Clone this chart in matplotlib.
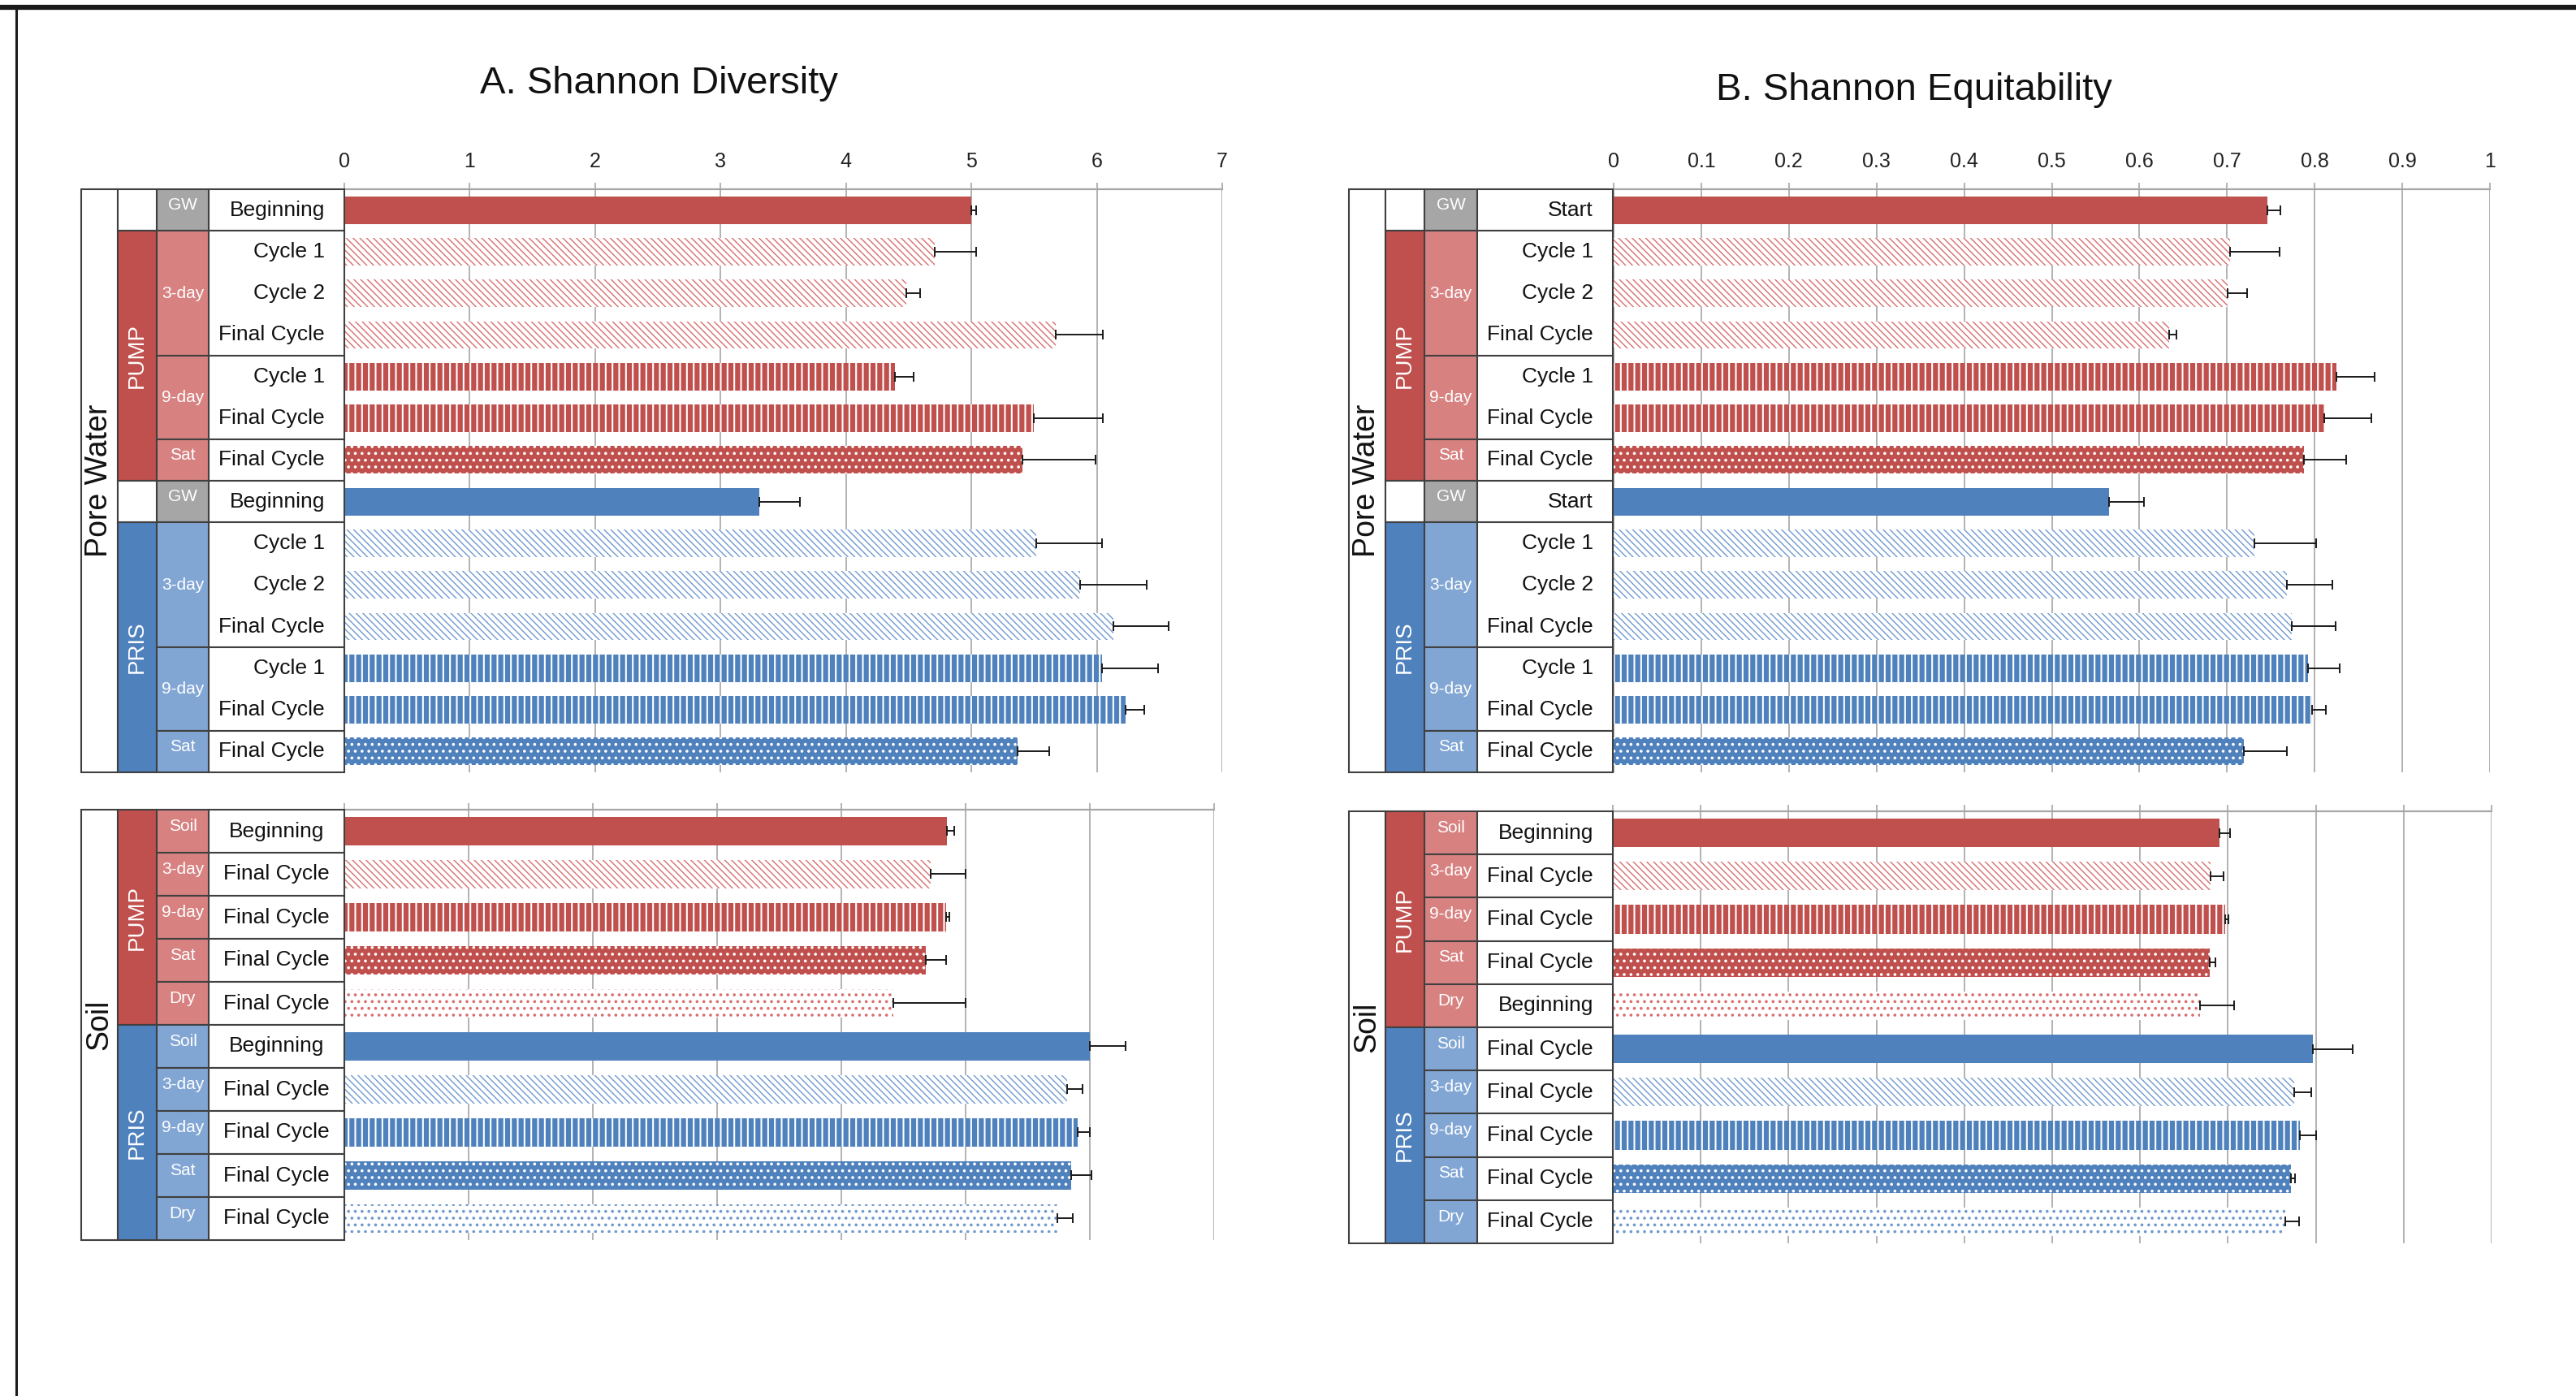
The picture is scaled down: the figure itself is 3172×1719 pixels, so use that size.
import matplotlib.pyplot as plt
import numpy as np
from matplotlib.patches import Rectangle
from matplotlib.lines import Line2D
from matplotlib.transforms import blended_transform_factory

plt.rcParams.update({
    "font.family": ["Liberation Sans", "DejaVu Sans"],
    "hatch.linewidth": 1.5,
})

W, H = 3172, 1719

# ---- row descriptors ----
pw_systems = ["", "PUMP", "PUMP", "PUMP", "PUMP", "PUMP", "PUMP",
              "", "PRIS", "PRIS", "PRIS", "PRIS", "PRIS", "PRIS"]
pw_colours = ["red"] * 7 + ["blue"] * 7
pw_treat = ["GW", "3-day", "3-day", "3-day", "9-day", "9-day", "Sat"] * 2
pw_labels_a = ["Beginning", "Cycle 1", "Cycle 2", "Final Cycle", "Cycle 1", "Final Cycle", "Final Cycle"] * 2
pw_labels_b = ["Start", "Cycle 1", "Cycle 2", "Final Cycle", "Cycle 1", "Final Cycle", "Final Cycle"] * 2

soil_systems = ["PUMP"] * 5 + ["PRIS"] * 5
soil_colours = ["red"] * 5 + ["blue"] * 5
soil_treat = ["Soil", "3-day", "9-day", "Sat", "Dry"] * 2
soil_labels_a = ["Beginning", "Final Cycle", "Final Cycle", "Final Cycle", "Final Cycle",
                 "Beginning", "Final Cycle", "Final Cycle", "Final Cycle", "Final Cycle"]
soil_labels_b = ["Beginning", "Final Cycle", "Final Cycle", "Final Cycle", "Beginning",
                 "Final Cycle", "Final Cycle", "Final Cycle", "Final Cycle", "Final Cycle"]

# ---- values ----
diversity_pw = [5.00, 4.71, 4.48, 5.67, 4.39, 5.50, 5.41, 3.31, 5.52, 5.87, 6.13, 6.04, 6.23, 5.37]
diversity_pw_err = [0.04, 0.33, 0.11, 0.38, 0.15, 0.55, 0.58, 0.32, 0.52, 0.53, 0.44, 0.45, 0.15, 0.25]
diversity_soil = [4.85, 4.72, 4.84, 4.68, 4.42, 6.00, 5.82, 5.90, 5.85, 5.74]
diversity_soil_err = [0.06, 0.28, 0.03, 0.16, 0.58, 0.29, 0.12, 0.10, 0.16, 0.12]

equit_pw = [0.746, 0.703, 0.701, 0.634, 0.825, 0.811, 0.788, 0.565, 0.731, 0.768, 0.774, 0.792, 0.797, 0.719]
equit_pw_err = [0.015, 0.057, 0.022, 0.008, 0.043, 0.054, 0.048, 0.040, 0.071, 0.052, 0.050, 0.037, 0.016, 0.049]
equit_soil = [0.690, 0.680, 0.697, 0.679, 0.668, 0.797, 0.775, 0.782, 0.772, 0.765]
equit_soil_err = [0.012, 0.015, 0.004, 0.007, 0.039, 0.045, 0.020, 0.018, 0.004, 0.016]

div_ticks = [0, 1, 2, 3, 4, 5, 6, 7]
div_ticklabels = ["0", "1", "2", "3", "4", "5", "6", "7"]
eq_ticks = [0, 0.1, 0.2, 0.3, 0.4, 0.5, 0.6, 0.7, 0.8, 0.9, 1.0]
eq_ticklabels = ["0", "0.1", "0.2", "0.3", "0.4", "0.5", "0.6", "0.7", "0.8", "0.9", "1"]

PAL = {
    "red": dict(solid="#C0504D", light="#D88181", hatch="#D86E6E"),
    "blue": dict(solid="#4F81BD", light="#82A6D4", hatch="#6F99CF"),
}
GW_GREY = "#A6A6A6"
LINE = "#404040"
GRID = "#A6A6A6"

# hatch per treatment: (face from palette?, hatch colour, pattern, hatch linewidth)
STYLE = {
    "GW": ("solid", None, None, 1.5),
    "Soil": ("solid", None, None, 1.5),
    "3-day": ("white", "hatch", "\\\\\\\\", 1.0),
    "9-day": ("solid", "white", "||", 1.5),
    "Sat": ("solid", "white", "..", 1.4),
    "Dry": ("white", "hatch", "..", 1.4),
}

fig = plt.figure(figsize=(W / 100, H / 100), dpi=100)


def runs(keys):
    out = []
    start = 0
    for i in range(1, len(keys) + 1):
        if i == len(keys) or keys[i] != keys[start] or keys[i] == "":
            out.append((start, i - start, keys[start]))
            start = i
    return out


def draw_block(box, cols, values, errs, systems, colours, treats, labels,
               xmax, ticks, ticklabels, show_labels, block_name, align):
    x0, x1, top, bot = box
    ax = fig.add_axes([x0 / W, 1 - bot / H, (x1 - x0) / W, (bot - top) / H])
    n = len(values)
    y = np.arange(n)
    for i in range(n):
        p = PAL[colours[i]]
        fkey, hkey, hatch, hlw = STYLE[treats[i]]
        face = p["solid"] if fkey == "solid" else "white"
        if hkey is None:
            edge = face
        elif hkey == "hatch":
            edge = p["hatch"]
        else:
            edge = hkey
        with plt.rc_context({"hatch.linewidth": hlw}):
            bars = ax.barh(y[i], values[i], height=0.66, color=face, edgecolor=edge,
                           hatch=hatch, linewidth=0, zorder=2)
        for b in bars:
            if hasattr(b, "set_hatch_linewidth"):
                b.set_hatch_linewidth(hlw)
    ax.errorbar(values, y, xerr=[np.zeros(n), errs], fmt="none", ecolor="#1a1a1a",
                elinewidth=1.4, capsize=4, capthick=1.4, zorder=3)

    ax.set_xlim(0, xmax)
    ax.set_ylim(n - 0.5, -0.5)
    ax.set_axisbelow(True)
    ax.xaxis.tick_top()
    ax.set_xticks(ticks)
    ax.set_xticklabels(ticklabels if show_labels else [])
    ax.tick_params(axis="x", top=True, bottom=False, labeltop=show_labels,
                   length=6, color=GRID, width=1.2, labelsize=18, pad=10,
                   labelcolor="#222222")
    ax.set_yticks([])
    ax.set_yticks(np.arange(n + 1) - 0.5, minor=True)
    ax.tick_params(axis="y", which="minor", left=True, length=6, color=GRID, width=1.2)
    ax.grid(axis="x", color=GRID, linewidth=1.2)
    for s in ["left", "right", "bottom"]:
        ax.spines[s].set_visible(False)
    ax.spines["top"].set_color(GRID)
    ax.spines["top"].set_linewidth(1.6)

    # label table drawn beside the axes
    tr = blended_transform_factory(fig.transFigure, ax.transData)
    c0, c1, c2, c3, c4 = [c / W for c in cols]

    def cell(xa, xb, start, span, face):
        ax.add_patch(Rectangle((xa, start - 0.5), xb - xa, span, transform=tr,
                               facecolor=face, edgecolor=LINE, linewidth=1.5,
                               clip_on=False, zorder=4))

    cell(c0, c1, 0, n, "white")
    ax.text((c0 + c1) / 2, (n - 1) / 2, block_name, transform=tr, rotation=90,
            ha="center", va="center", fontsize=27, color="#111111", zorder=5)

    for start, span, key in runs(systems):
        if key == "":
            cell(c1, c2, start, span, "white")
        else:
            cell(c1, c2, start, span, PAL[colours[start]]["solid"])
            ax.text((c1 + c2) / 2, start + (span - 1) / 2, key, transform=tr,
                    rotation=90, ha="center", va="center", fontsize=20,
                    color="white", zorder=5)

    keys = [s + "|" + t for s, t in zip(systems, treats)]
    for start, span, key in runs(keys):
        t = treats[start]
        face = GW_GREY if t == "GW" else PAL[colours[start]]["light"]
        cell(c2, c3, start, span, face)
        cell(c3, c4, start, span, "white")
        yc = start + (span - 1) / 2 - (0.12 if span == 1 else 0)
        ax.text((c2 + c3) / 2, yc, t, transform=tr, ha="center", va="center",
                fontsize=15, color="white", zorder=5)

    for i in range(n):
        if align == "center":
            ax.text((c3 + c4) / 2, i, labels[i], transform=tr, ha="center",
                    va="center", fontsize=19, color="#111111", zorder=5)
        else:
            ax.text(c4 - 24 / W, i, labels[i], transform=tr, ha="right",
                    va="center", fontsize=19, color="#111111", zorder=5)
    return ax


cols_a = [100, 145, 193, 257, 424]
cols_b = [1661, 1706, 1754, 1819, 1986]

draw_block((424, 1505, 233, 951), cols_a, diversity_pw, diversity_pw_err, pw_systems,
           pw_colours, pw_treat, pw_labels_a, 7, div_ticks, div_ticklabels, True,
           "Pore Water", "right")
draw_block((424, 1495, 997, 1527), cols_a, diversity_soil, diversity_soil_err, soil_systems,
           soil_colours, soil_treat, soil_labels_a, 7, div_ticks, div_ticklabels, False,
           "Soil", "center")
draw_block((1987, 3066, 233, 951), cols_b, equit_pw, equit_pw_err, pw_systems,
           pw_colours, pw_treat, pw_labels_b, 1, eq_ticks, eq_ticklabels, True,
           "Pore Water", "right")
draw_block((1986, 3068, 999, 1531), cols_b, equit_soil, equit_soil_err, soil_systems,
           soil_colours, soil_treat, soil_labels_b, 1, eq_ticks, eq_ticklabels, False,
           "Soil", "right")

fig.text(811 / W, 1 - 103 / H, "A. Shannon Diversity", ha="center", va="center",
         fontsize=34, color="#111111")
fig.text(2357 / W, 1 - 111 / H, "B. Shannon Equitability", ha="center", va="center",
         fontsize=34, color="#111111")

# page frame
fig.add_artist(Line2D([0, 1], [1 - 9 / H, 1 - 9 / H], transform=fig.transFigure,
                      color="#1a1a1a", linewidth=4.5))
fig.add_artist(Line2D([20 / W, 20 / W], [0, 1 - 9 / H], transform=fig.transFigure,
                      color="#1a1a1a", linewidth=2.2))

fig.savefig("out.png", dpi=100)
